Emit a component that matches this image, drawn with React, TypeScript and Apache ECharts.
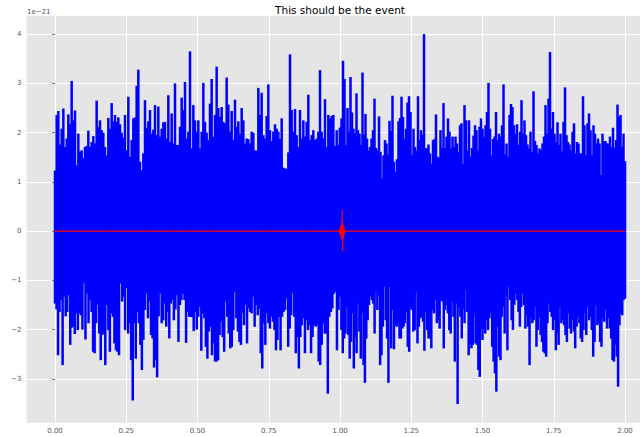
import React, { useEffect, useRef } from "react";
import * as echarts from "echarts";

// Tick labels
const xTicks = [0, 0.25, 0.5, 0.75, 1.0, 1.25, 1.5, 1.75, 2.0];
const yTicks = [-3, -2, -1, 0, 1, 2, 3, 4];

// Upper envelope of the noisy signal (units of 1e-21), t from 0 to 1 s
const hiA = [
  1.23, 2.36, 2.44, 1.76, 2.08, 2.49, 1.71, 1.88, 2.37, 2.17,
  3.05, 2.25, 2.45, 1.34, 1.98, 1.62, 1.64, 1.48, 1.71, 1.73,
  2.04, 1.71, 1.81, 1.93, 1.78, 2.65, 2.12, 2.25, 2.05, 2.0,
  1.71, 1.54, 2.3, 2.08, 2.6, 2.23, 2.36, 2.22, 2.31, 2.17,
  2.0, 1.9, 2.36, 1.64, 2.73, 1.51, 1.85, 2.29, 2.31, 2.95,
  3.28, 1.41, 1.24, 1.58, 2.66, 2.1, 2.23, 2.46, 1.98, 2.06,
  2.56, 1.95, 2.53, 1.92, 2.08, 2.21, 2.22, 1.88, 2.76, 1.81,
  2.39, 1.78, 3.0, 1.75, 1.75, 2.12, 2.71, 2.46, 3.03, 1.88,
  2.02, 3.65, 1.68, 2.56, 2.25, 2.02, 2.25, 1.68, 2.02, 3.01,
  2.22, 2.0, 1.85, 2.59, 3.09, 1.92, 2.36, 3.34, 2.5, 2.32,
  2.52, 2.22, 2.19, 3.12, 2.57, 2.02, 2.44, 1.85, 2.67, 2.12,
  2.23, 1.98, 2.5, 2.25, 1.78, 1.88, 1.87, 1.78, 2.02, 2.0,
  1.64, 1.64, 2.91, 2.36, 2.81, 1.95, 1.88, 2.34, 2.98, 2.05,
  1.83, 2.02, 2.17, 2.08, 2.02, 1.87, 2.29, 1.29, 1.27, 1.27,
  1.6, 3.59, 2.46, 2.02, 2.48, 1.95, 1.71, 2.46, 1.88, 2.25,
  1.92, 2.22, 2.77, 1.85, 1.95, 2.05, 1.85, 1.88, 2.02, 3.27,
  2.02, 1.88, 2.68, 1.71, 2.36, 2.29, 2.34, 2.36, 1.73, 2.05,
  1.75, 2.1,
];

// Upper envelope, t from 1 to 2 s
const hiB = [
  2.1, 2.29, 3.46, 3.09, 1.75, 2.5, 2.02, 3.13, 2.41, 2.08,
  1.98, 2.8, 2.05, 1.98, 1.75, 3.22, 1.96, 2.38, 1.88, 1.64,
  1.71, 1.88, 2.05, 2.69, 1.69, 1.64, 2.33, 1.61, 1.07, 1.54,
  1.85, 1.78, 1.56, 2.24, 2.03, 2.75, 1.41, 1.2, 1.46, 2.23,
  2.3, 2.73, 2.32, 1.88, 2.08, 2.61, 2.74, 2.42, 1.54, 2.08,
  1.71, 1.64, 2.74, 1.85, 2.05, 1.96, 4.0, 1.69, 1.68, 1.76,
  1.58, 1.37, 1.85, 1.87, 2.37, 1.51, 1.49, 2.05, 1.69, 2.6,
  1.69, 1.92, 2.29, 2.02, 1.68, 1.92, 1.71, 1.92, 1.78, 1.61,
  2.15, 2.19, 1.37, 2.56, 2.25, 1.64, 2.25, 1.51, 1.69, 1.94,
  2.15, 2.05, 1.64, 2.12, 2.29, 2.08, 1.92, 2.15, 2.42, 3.01,
  2.08, 1.54, 1.87, 1.92, 2.42, 1.85, 1.98, 1.92, 2.15, 2.98,
  1.56, 1.78, 1.51, 2.36, 2.58, 2.52, 2.15, 1.98, 2.17, 1.75,
  2.02, 2.66, 1.98, 2.25, 1.95, 1.76, 1.68, 2.02, 1.61, 2.84,
  1.83, 1.75, 1.58, 1.68, 1.64, 1.78, 1.92, 2.56, 1.98, 2.69,
  3.64, 2.08, 2.42, 1.98, 1.81, 2.21, 1.75, 1.98, 1.62, 2.22,
  2.92, 1.95, 1.81, 1.76, 1.64, 2.02, 2.19, 1.58, 1.81, 1.78,
  1.58, 1.58, 2.74, 2.15, 1.54, 2.19, 2.39, 2.05, 1.54, 2.15,
  1.98, 1.78, 1.88, 1.78, 1.14, 1.98, 1.83, 1.83, 1.78, 1.78,
  1.92, 1.71, 2.1, 1.69, 1.85, 2.57, 2.32, 2.36, 1.71, 1.98,
  1.42,
];

// Lower envelope, t from 0 to 1 s
const loA = [
  -1.47, -1.59, -2.52, -1.64, -1.4, -2.72, -1.33, -1.73, -1.64, -1.3,
  -2.31, -1.96, -1.94, -2.09, -1.67, -2.01, -1.67, -1.71, -2.0, -1.06,
  -2.2, -1.27, -1.87, -1.4, -1.64, -2.45, -2.48, -1.87, -1.5, -2.08,
  -2.62, -2.11, -2.08, -2.72, -1.5, -2.01, -2.45, -1.67, -1.74, -2.28,
  -2.42, -2.45, -2.52, -1.06, -1.43, -1.33, -2.01, -1.16, -2.08, -1.87,
  -2.62, -3.44, -1.87, -2.59, -1.64, -1.87, -2.31, -2.82, -2.21, -1.6,
  -1.27, -1.77, -1.43, -2.11, -2.18, -2.77, -2.62, -2.97, -1.73, -1.27,
  -1.87, -1.81, -1.47, -1.94, -1.64, -2.18, -1.47, -1.4, -1.81, -1.59,
  -1.3, -2.25, -1.5, -1.4, -1.27, -1.4, -2.27, -1.64, -1.74, -1.74,
  -1.75, -2.03, -1.64, -2.0, -1.74, -1.54, -2.43, -1.67, -1.77, -2.35,
  -2.59, -2.04, -1.94, -2.52, -2.28, -2.65, -2.65, -2.62, -2.11, -1.84,
  -2.15, -2.45, -1.43, -1.74, -2.08, -2.38, -2.35, -2.01, -1.23, -1.77,
  -2.04, -2.25, -2.31, -1.67, -1.91, -1.5, -2.28, -1.57, -1.64, -1.67,
  -1.33, -1.94, -1.5, -1.71, -1.57, -2.48, -2.79, -1.87, -2.31, -1.67,
  -1.87, -1.98, -1.74, -1.84, -2.01, -2.42, -2.21, -1.74, -2.42, -1.74,
  -1.64, -1.6, -1.37, -2.35, -1.98, -1.71, -1.27, -1.74, -2.48, -2.15,
  -2.79, -2.15, -1.91, -1.77, -2.48, -1.81, -2.01, -1.91, -2.48, -2.15,
  -1.91, -1.94, -1.91, -2.65, -2.72, -2.31, -1.87, -2.08, -2.08, -3.3,
  -1.74, -1.64, -1.57, -1.27, -1.23, -2.42, -1.6, -1.33,
];

// Lower envelope, t from 1 to 2 s
const loB = [
  -1.27, -2.01, -2.48, -2.18, -2.08, -1.54, -2.11, -2.59, -2.25, -1.67,
  -2.79, -2.15, -2.48, -1.47, -2.04, -2.59, -1.67, -2.72, -3.08, -2.18,
  -1.81, -1.5, -1.33, -1.4, -1.47, -2.08, -1.23, -1.6, -1.3, -2.72,
  -2.52, -1.94, -1.13, -1.81, -2.18, -3.08, -1.13, -2.38, -1.6, -2.4,
  -1.91, -1.94, -1.87, -2.18, -2.18, -1.98, -1.94, -1.87, -1.64, -2.35,
  -2.45, -1.57, -1.6, -2.04, -2.01, -1.23, -2.28, -1.94, -1.77, -1.74,
  -1.84, -2.43, -1.64, -2.01, -2.18, -2.18, -2.38, -1.6, -1.67, -1.4,
  -1.87, -1.81, -1.98, -1.4, -1.43, -2.38, -1.6, -1.5, -1.67, -2.01,
  -2.08, -1.43, -1.74, -2.65, -1.47, -3.51, -1.54, -1.74, -2.18, -1.57,
  -1.87, -1.2, -1.64, -2.52, -2.28, -2.38, -2.31, -1.71, -2.28, -2.31,
  -2.82, -2.96, -1.98, -2.21, -1.98, -2.08, -1.81, -2.01, -1.77, -1.67,
  -2.35, -2.65, -2.89, -3.26, -1.94, -2.55, -2.62, -1.74, -1.54, -2.08,
  -1.3, -2.42, -1.13, -1.4, -1.81, -2.01, -1.5, -1.27, -1.4, -1.64,
  -1.94, -1.54, -1.27, -1.5, -1.98, -1.71, -1.94, -2.72, -1.77, -1.87,
  -1.81, -1.54, -2.35, -2.01, -1.74, -2.11, -2.25, -2.45, -2.48, -2.55,
  -1.87, -1.47, -1.64, -1.74, -2.01, -1.81, -2.42, -2.08, -2.31, -1.54,
  -1.87, -1.81, -1.91, -2.11, -2.25, -1.67, -1.98, -2.08, -1.81, -2.04,
  -2.38, -1.94, -1.74, -1.87, -2.18, -2.25, -2.01, -1.67, -2.11, -1.54,
  -1.81, -1.74, -2.01, -2.55, -2.25, -1.5, -1.91, -1.87, -2.25, -2.35,
  -1.77, -1.84, -1.6, -1.98, -1.77, -1.98, -2.18, -2.62, -2.65, -2.31,
  -2.55, -3.16, -1.91, -1.67, -1.71, -1.4, -1.37,
];

// Injected event (red), time and strain
const redT = [0, 0.996, 0.998, 1.0, 1.002, 1.004, 1.006, 1.007, 1.008, 1.009, 1.01, 1.012, 1.014, 1.016, 1.018, 2.0];
const redV = [0, 0, 0.04, -0.06, 0.1, -0.13, 0.17, -0.2, 0.43, -0.41, 0.16, -0.15, 0.1, -0.05, 0, 0];

const FONT = "DejaVu Sans";

function spread(vals: number[], t0: number, t1: number): number[][] {
  const n = vals.length;
  return vals.map((v, i) => [t0 + ((t1 - t0) * i) / (n - 1), v]);
}

export default function App() {
  const ref = useRef<HTMLDivElement>(null);
  useEffect(() => {
    if (!ref.current) return;
    const chart = echarts.init(ref.current, null, { renderer: "svg" });
    const hiData = spread(hiA, 0, 1).concat(spread(hiB, 1, 2));
    const loData = spread(loA, 0, 1).concat(spread(loB, 1, 2));
    const redData = redT.map((t, i) => [t, redV[i]]);
    const minus = (s: string) => s.replace("-", "\u2212");
    chart.setOption({
      animation: false,
      grid: {
        left: 26.5,
        right: 0,
        top: 15.7,
        bottom: 14.3,
        show: true,
        backgroundColor: "#E5E5E5",
        borderWidth: 0,
      },
      graphic: [
        {
          type: "text",
          x: 340,
          y: 10,
          style: {
            text: "This should be the event",
            font: `10.5px '${FONT}'`,
            fill: "#000",
            textAlign: "center",
            textVerticalAlign: "middle",
          },
        },
        {
          type: "text",
          x: 27,
          y: 11.5,
          style: {
            text: "1e\u221221",
            font: `7px '${FONT}'`,
            fill: "#555555",
            textAlign: "left",
            textVerticalAlign: "middle",
          },
        },
      ],
      xAxis: {
        type: "value",
        min: -0.1,
        max: 2.0526,
        axisLine: { show: false },
        axisTick: {
          show: true,
          customValues: xTicks,
          length: 3,
          lineStyle: { color: "#555555", width: 0.8 },
        },
        axisLabel: {
          customValues: xTicks,
          formatter: (v: number) => minus(v.toFixed(2)),
          color: "#555555",
          fontSize: 7,
          fontFamily: FONT,
          margin: 5,
        },
        splitLine: { show: true, lineStyle: { color: "#ffffff", width: 1 } },
      },
      yAxis: {
        type: "value",
        min: -3.89,
        max: 4.375,
        axisLine: { show: false },
        axisTick: {
          show: true,
          customValues: yTicks,
          length: 3,
          lineStyle: { color: "#555555", width: 0.8 },
        },
        axisLabel: {
          customValues: yTicks,
          formatter: (v: number) => minus(String(v)),
          color: "#555555",
          fontSize: 7,
          fontFamily: FONT,
          margin: 5,
        },
        splitLine: { show: true, lineStyle: { color: "#ffffff", width: 1 } },
      },
      series: [
        {
          type: "bar",
          data: hiData,
          barWidth: 2.5,
          barGap: "-100%",
          itemStyle: { color: "#0000ff" },
          silent: true,
          z: 2,
        },
        {
          type: "bar",
          data: loData,
          barWidth: 2.5,
          barGap: "-100%",
          itemStyle: { color: "#0000ff" },
          silent: true,
          z: 2,
        },
        {
          type: "line",
          data: redData,
          showSymbol: false,
          symbol: "none",
          lineStyle: { color: "#ff0000", width: 1.2 },
          silent: true,
          z: 5,
        },
      ],
    });
    return () => chart.dispose();
  }, []);
  return (
    <div
      ref={ref}
      style={{ position: "absolute", left: 0, top: 0, width: 640, height: 437 }}
    />
  );
}
